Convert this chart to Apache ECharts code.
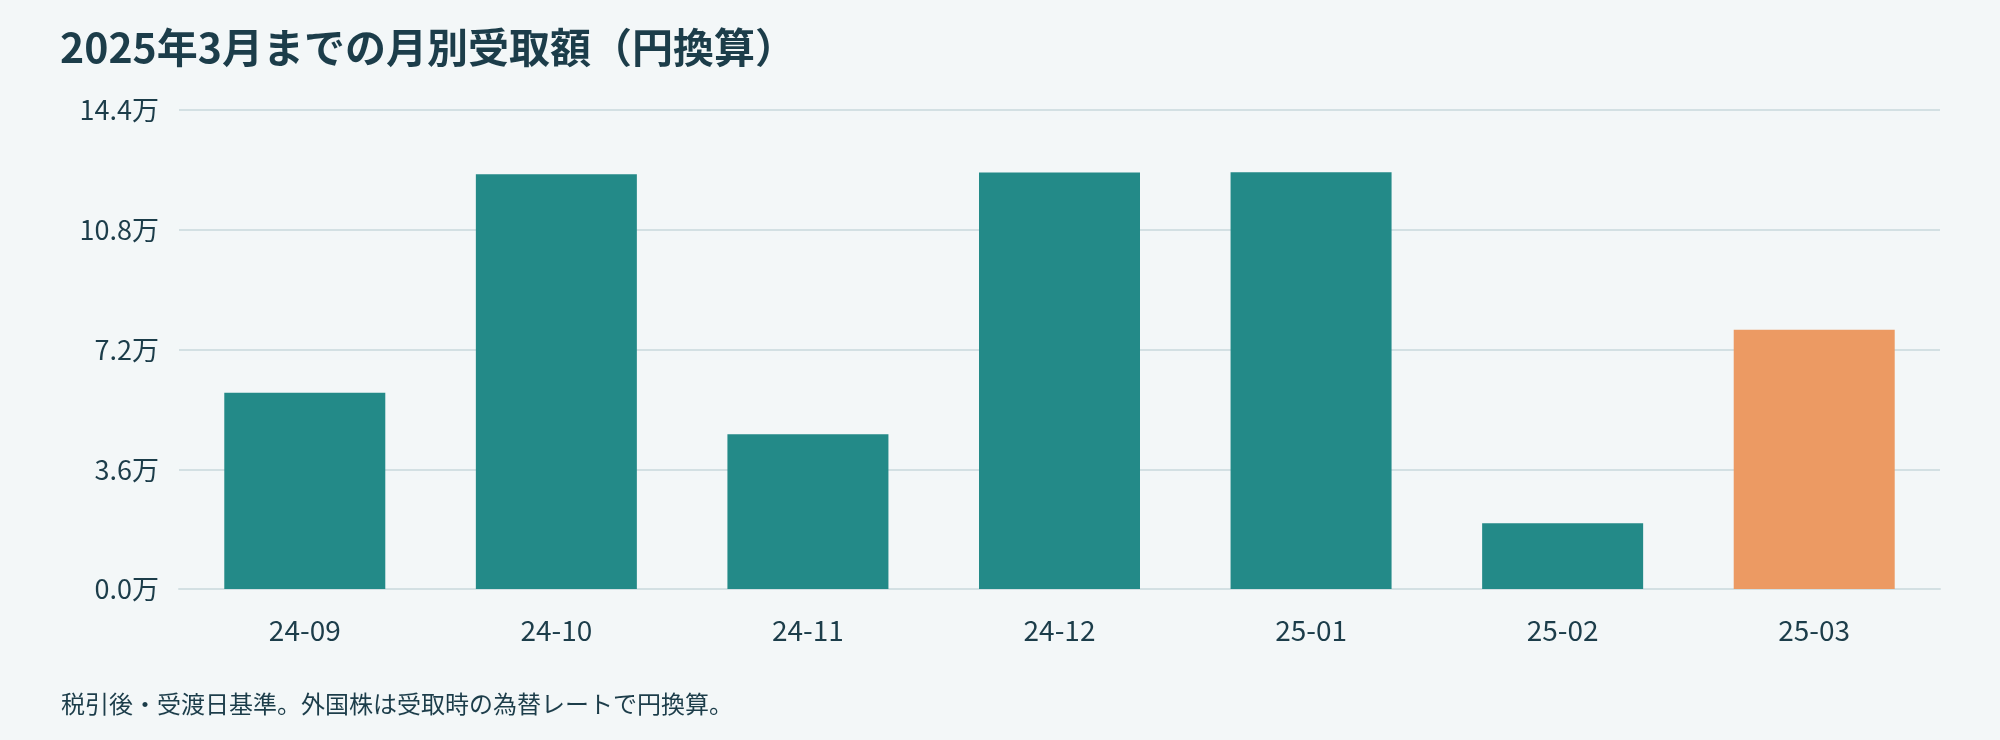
<!DOCTYPE html>
<html>
<head>
<meta charset="utf-8">
<script src="https://cdn.jsdelivr.net/npm/echarts@6/dist/echarts.min.js"></script>
<style>
html,body{margin:0;padding:0;background:#F3F7F8;}
#chart{width:2000px;height:740px;}
</style>
</head>
<body>
<div id="chart"></div>
<script>
const titleText = '2025年3月までの月別受取額（円換算）';
const noteText = '税引後・受渡日基準。外国株は受取時の為替レートで円換算。';
const categories = ['24-09','24-10','24-11','24-12','25-01','25-02','25-03'];
const amounts = [59000, 124700, 46500, 125200, 125300, 19800, 77900];
const highlightIndex = 6;
const yMax = 144000;
const yInterval = 36000;

const FONT = '"Noto Sans CJK JP", "Noto Sans", sans-serif';
const TEXT = '#1C3D4A';
const TEAL = '#238A88';
const ORANGE = '#EC9A63';

const chart = echarts.init(document.getElementById('chart'));
chart.setOption({
  backgroundColor: '#F3F7F8',
  animation: false,
  textStyle: { fontFamily: FONT },
  title: [
    { text: titleText, left: 55, top: 22,
      textStyle: { fontFamily: FONT, fontSize: 41, fontWeight: 'bold', color: TEXT } },
    { text: noteText, left: 56, top: 687,
      textStyle: { fontFamily: FONT, fontSize: 24, fontWeight: 'normal', color: TEXT } }
  ],
  grid: { left: 179, right: 60, top: 110, bottom: 151, containLabel: false },
  xAxis: {
    type: 'category',
    data: categories,
    axisLine: { show: true, lineStyle: { color: '#D3E0E3', width: 2 } },
    axisTick: { show: false },
    axisLabel: { color: TEXT, fontSize: 28, margin: 27, fontFamily: FONT }
  },
  yAxis: {
    type: 'value',
    min: 0, max: yMax, interval: yInterval,
    axisLine: { show: false },
    axisTick: { show: false },
    splitLine: { lineStyle: { color: '#D3E0E3', width: 2 } },
    axisLabel: { color: TEXT, fontSize: 27, margin: 20, fontFamily: FONT,
      formatter: v => (v / 10000).toFixed(1) + '万' }
  },
  series: [{
    type: 'bar',
    data: amounts.map((v, i) => ({ value: v, itemStyle: { color: i === highlightIndex ? ORANGE : TEAL } })),
    barCategoryGap: '36%'
  }]
});
</script>
</body>
</html>
